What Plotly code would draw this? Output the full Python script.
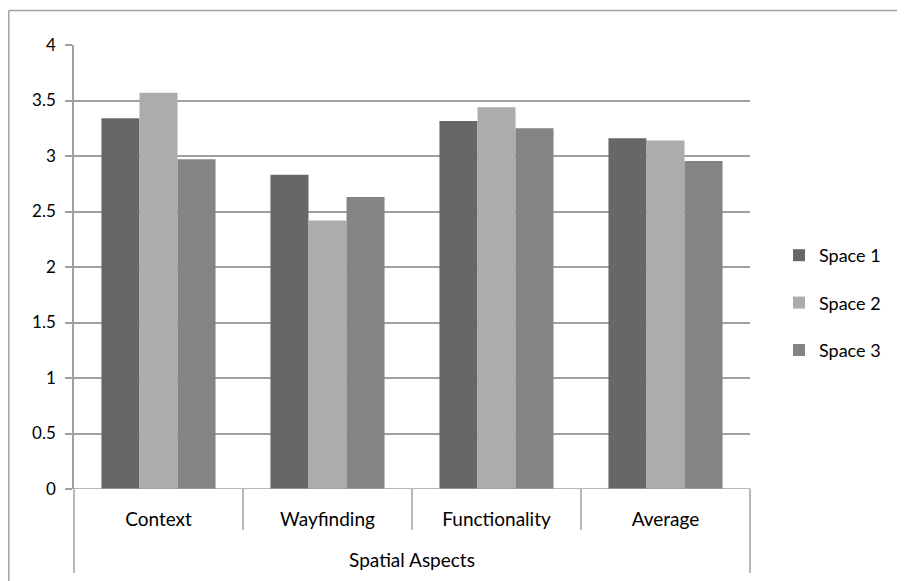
import plotly.graph_objects as go

categories = ["Context", "Wayfinding", "Functionality", "Average"]
series_names = ["Space 1", "Space 2", "Space 3"]
space1 = [3.34, 2.83, 3.315, 3.16]
space2 = [3.57, 2.42, 3.44, 3.14]
space3 = [2.97, 2.63, 3.25, 2.955]
y_ticks = [0, 0.5, 1, 1.5, 2, 2.5, 3, 3.5, 4]
y_tick_labels = ["0", "0.5", "1", "1.5", "2", "2.5", "3", "3.5", "4"]
axis_group_label = "Spatial Aspects"

colors = ["#676767", "#acacac", "#848484"]
FONT = "Lato"

fig = go.Figure()
for name, vals, col in zip(series_names, [space1, space2, space3], colors):
    fig.add_trace(go.Bar(
        x=categories, y=vals, name=name, legendgroup=name,
        marker=dict(color=col, line=dict(width=0)),
    ))

# page body has an 8px margin, so the figure is drawn 8px in from the top-left
W, H = 897, 573
ml, mr, mt, mb = 66, 155, 37, 92
pw, ph = W - ml - mr, H - mt - mb
grid = "#a0a0a0"

shapes = []
n = len(categories)
for i in range(n + 1):
    outer = i == 0 or i == n
    shapes.append(dict(
        type="line", xref="x domain", yref="y domain",
        x0=i / n, x1=i / n, y0=0, y1=-(84 if outer else 41) / ph,
        line=dict(color=grid, width=1.5),
    ))
# outer chart border (top and left)
bx, by = 0.8, 2.5
shapes.append(dict(type="line", xref="paper", yref="paper",
                   x0=(bx - ml) / pw, x1=(W - ml) / pw,
                   y0=(H - mb - by) / ph, y1=(H - mb - by) / ph,
                   line=dict(color=grid, width=1.5)))
shapes.append(dict(type="line", xref="paper", yref="paper",
                   x0=(bx - ml) / pw, x1=(bx - ml) / pw,
                   y0=(H - mb - by) / ph, y1=-mb / ph,
                   line=dict(color=grid, width=1.5)))

fig.update_layout(
    width=W, height=H,
    margin=dict(l=ml, r=mr, t=mt, b=mb, autoexpand=False),
    paper_bgcolor="white", plot_bgcolor="white",
    barmode="group", bargap=0.325, bargroupgap=0,
    font=dict(family=FONT, size=17, color="#000000"),
    showlegend=True,
    legend=dict(
        x=(771 - ml) / pw, xanchor="left",
        y=(H - mb - 229) / ph, yanchor="top",
        traceorder="grouped", tracegroupgap=21,
        font=dict(family=FONT, size=18, color="#000000"),
        bgcolor="rgba(0,0,0,0)",
        itemclick=False,
    ),
    xaxis=dict(
        showgrid=False, zeroline=False, showline=False,
        ticks="", ticklabelstandoff=17,
        tickfont=dict(family=FONT, size=19),
        title=dict(text=axis_group_label, font=dict(family=FONT, size=19), standoff=24),
    ),
    yaxis=dict(
        range=[0, 4], tickvals=y_ticks, ticktext=y_tick_labels,
        showgrid=True, gridcolor=grid, gridwidth=1.5,
        zeroline=False, showline=True, linecolor=grid, linewidth=1.5,
        ticks="outside", ticklen=7, tickcolor=grid, tickwidth=1.5,
        ticklabelstandoff=6,
        tickfont=dict(family=FONT, size=17),
    ),
    shapes=shapes,
)
# baseline at zero
fig.add_hline(y=0, line=dict(color=grid, width=1.5), layer="above")

fig.write_html("out.html")
